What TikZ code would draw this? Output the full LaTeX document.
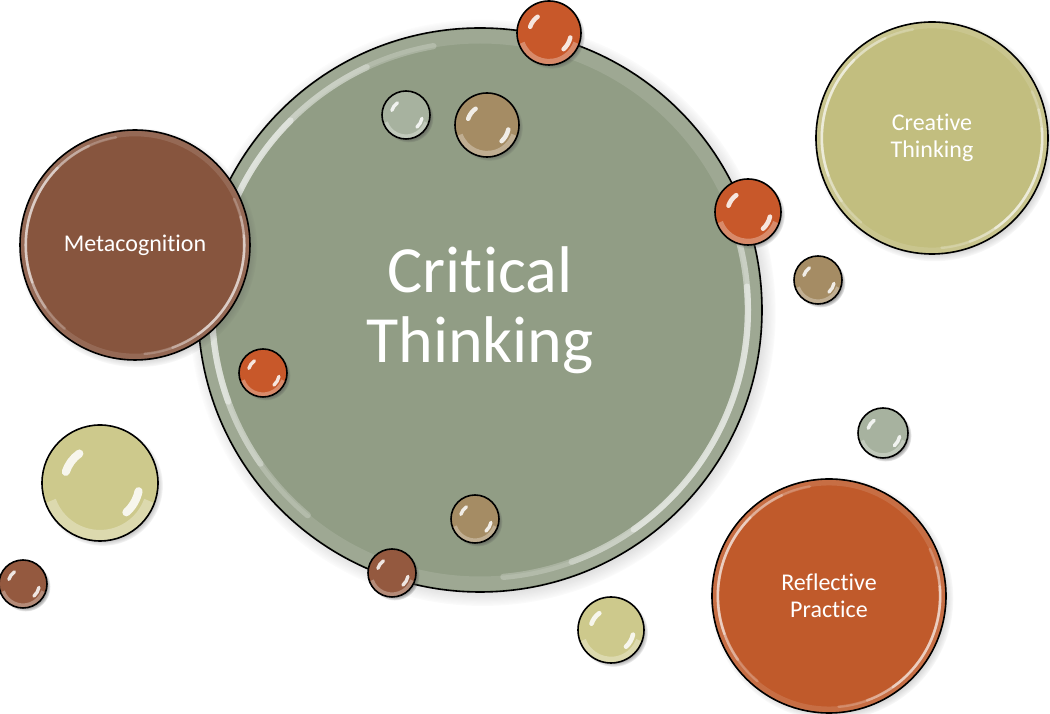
\documentclass[tikz,border=0pt]{standalone}
\usepackage{fontspec}
\setmainfont{Carlito}[Ligatures={NoCommon,NoContextual}]
\usetikzlibrary{shadows,fadings}
\definecolor{ctg}{HTML}{919D85}
\definecolor{metab}{HTML}{87553E}
\definecolor{creat}{HTML}{C2BE7F}
\definecolor{refl}{HTML}{C05A2B}
\definecolor{orng}{HTML}{C8582A}
\definecolor{btan}{HTML}{A58C64}
\definecolor{gry}{HTML}{A7B29F}
\definecolor{ltan}{HTML}{CDC98C}
\definecolor{rbr}{HTML}{94593F}
\tikzset{
  bub/.style 2 args={circle, draw=black, line width=1.6pt, fill=#1, inner sep=0pt,
    minimum size={2*#2pt}, text=white, align=center,
    circular drop shadow={shadow scale=1.04, shadow xshift=2.5pt, shadow yshift=-2.5pt, opacity=0.5, fill=black!70}},
  biggloss/.style={path picture={
    \draw[white, opacity=0.12, line width={0.05*#1pt}] (path picture bounding box.center) circle[radius={0.97*#1pt}];
    \foreach \a/\b/\o in {100/230/0.22, 115/215/0.3, 135/200/0.4, -85/25/0.22, -70/15/0.3, -55/5/0.4}{
      \draw[white, opacity=\o, line width={0.022*#1pt}, line cap=round]
        (path picture bounding box.center) ++(\a:{0.95*#1pt}) arc[start angle=\a, end angle=\b, radius={0.95*#1pt}];}
  }},
  smallgloss/.style={path picture={
    \draw[white, opacity=0.3, line width={0.18*#1pt}] (path picture bounding box.center) ++(200:{0.9*#1pt}) arc[start angle=200, end angle=340, radius={0.9*#1pt}];
    \draw[white, opacity=0.85, line width={0.14*#1pt}, line cap=round]
      (path picture bounding box.center) ++(125:{0.62*#1pt}) arc[start angle=125, end angle=162, radius={0.62*#1pt}];
    \draw[white, opacity=0.85, line width={0.14*#1pt}, line cap=round]
      (path picture bounding box.center) ++(-48:{0.68*#1pt}) arc[start angle=-48, end angle=-12, radius={0.68*#1pt}];
  }},
  lbl/.style={font=\fontsize{24}{27}\selectfont},
}
\begin{document}
\begin{tikzpicture}[x=1pt,y=1pt]
\useasboundingbox (0,0) rectangle (1050,714);
\fill[white] (0,0) rectangle (1050,714);
% main circle
\node[bub={ctg}{282}, biggloss=282, font=\fontsize{66}{70}\selectfont] (ct) at (480,404) {Critical\\Thinking};
% big satellites
\node[bub={metab}{115}, biggloss=115, lbl] (meta) at (135,469) {Metacognition};
\node[bub={creat}{116}, biggloss=116, lbl] (creative) at (932,576) {Creative\\Thinking};
\node[bub={refl}{117}, biggloss=117, lbl] (reflective) at (829,118) {Reflective\\Practice};
% small bubbles
\node[bub={orng}{32}, smallgloss=32] (o1) at (549,681) {};
\node[bub={gry}{24}, smallgloss=24] (g1) at (406,599) {};
\node[bub={btan}{32}, smallgloss=32] (b1) at (487,589) {};
\node[bub={orng}{33}, smallgloss=33] (o2) at (748,502) {};
\node[bub={btan}{24}, smallgloss=24] (b2) at (818,434) {};
\node[bub={orng}{24}, smallgloss=24] (o3) at (263,341) {};
\node[bub={gry}{25}, smallgloss=25] (g2) at (883,281) {};
\node[bub={ltan}{58}, smallgloss=58] (t1) at (100,231) {};
\node[bub={btan}{24}, smallgloss=24] (b3) at (475,195) {};
\node[bub={rbr}{24}, smallgloss=24] (r1) at (392,141) {};
\node[bub={rbr}{24}, smallgloss=24] (r2) at (23,130) {};
\node[bub={ltan}{33}, smallgloss=33] (t2) at (611,84) {};
\end{tikzpicture}
\end{document}
